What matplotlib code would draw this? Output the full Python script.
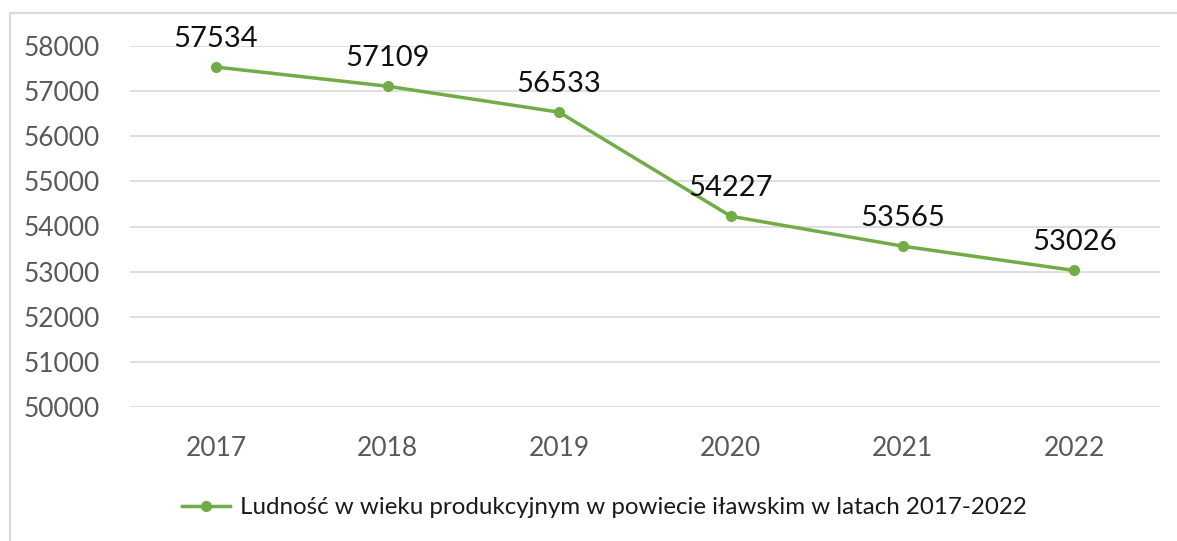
import matplotlib.pyplot as plt
from matplotlib.patches import Rectangle

lata = ["2017", "2018", "2019", "2020", "2021", "2022"]
ludnosc = [57534, 57109, 56533, 54227, 53565, 53026]
y_ticks = [50000, 51000, 52000, 53000, 54000, 55000, 56000, 57000, 58000]
etykieta = "Ludność w wieku produkcyjnym w powiecie iławskim w latach 2017-2022"

zielony = "#70AD47"
plt.rcParams['font.family'] = ['Lato', 'DejaVu Sans']

fig = plt.figure(figsize=(11.77, 5.41), dpi=100)
ax = fig.add_axes([130 / 1177, 1 - 407 / 541, 1030 / 1177, 361 / 541])

# ramka wykresu
fig.patches.append(Rectangle((10 / 1177, -0.01), 1.2, 1 - 13 / 541 + 0.01,
                             transform=fig.transFigure, fill=False,
                             edgecolor="#D9D9D9", linewidth=1.5))

x = list(range(len(lata)))
ax.plot(x, ludnosc, color=zielony, linewidth=2.5, marker='o', markersize=7,
        label=etykieta, zorder=3)

for xi, v in zip(x, ludnosc):
    ax.annotate(str(v), (xi, v), xytext=(0, 11), textcoords='offset points',
                ha='center', va='bottom', fontsize=21, color="#111111",
                annotation_clip=False)

ax.set_xlim(-0.5, len(lata) - 0.5)
ax.set_ylim(50000, 58000)
ax.set_xticks(x)
ax.set_xticklabels(lata)
ax.set_yticks(y_ticks)
ax.tick_params(axis='both', length=0, labelsize=19, labelcolor="#595959")
ax.tick_params(axis='x', pad=21)
ax.tick_params(axis='y', pad=22)
ax.grid(axis='y', color="#D9D9D9", linewidth=1.2)
ax.set_axisbelow(True)
for s in ax.spines.values():
    s.set_visible(False)

fig.legend(loc='center', bbox_to_anchor=(604 / 1177, 1 - 508 / 541), frameon=False,
           fontsize=17.4, handlelength=2.0, handletextpad=0.4, labelcolor="#1a1a1a")

fig.savefig("out.png", dpi=100)
